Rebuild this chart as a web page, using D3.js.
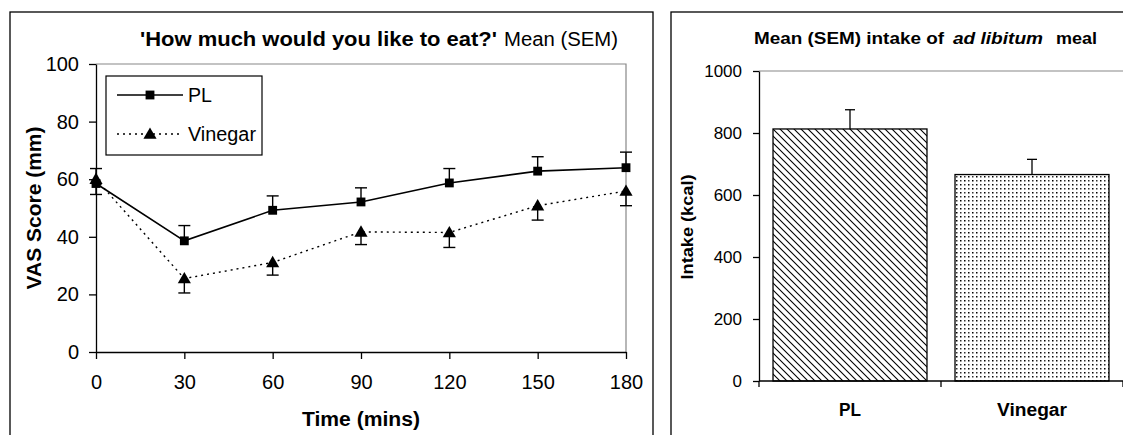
<!DOCTYPE html>
<html>
<head>
<meta charset="utf-8">
<script src="https://cdn.jsdelivr.net/npm/d3@7"></script>
<style>
  body { margin: 0; background: #fff; }
  svg { display: block; font-family: "Liberation Sans", Arial, sans-serif; }
  .axis path, .axis line { stroke: #000; stroke-width: 1.3; }
  .axis text { fill: #000; }
</style>
</head>
<body>
<svg id="chart" width="1123" height="435"></svg>
<script>
// ---------------- data ----------------
var times = [0, 30, 60, 90, 120, 150, 180];
var plMean = [58.5, 38.6, 49.2, 52.1, 58.7, 62.8, 64.0];
var plSem = [5.2, 5.3, 5.0, 4.9, 5.0, 5.0, 5.4];
var vinMean = [60.0, 25.5, 31.1, 41.7, 41.5, 50.8, 55.9];
var vinSem = [5.3, 5.0, 4.4, 4.4, 5.2, 5.0, 5.1];
var vasTicks = [0, 20, 40, 60, 80, 100];

var groups = ["PL", "Vinegar"];
var intakeMean = [813, 666];
var intakeSem = [62, 49];
var intakeTicks = [0, 200, 400, 600, 800, 1000];

var svg = d3.select('#chart');

// helper: text stretched to a given width
function label(x, y, str, size, len, opts) {
    opts = opts || {};
    var t = svg.append('text').attr('x', x).attr('y', y).attr('font-size', size)
        .attr('text-anchor', opts.anchor || 'start')
        .attr('textLength', len).attr('lengthAdjust', 'spacingAndGlyphs').text(str);
    if (opts.bold) t.attr('font-weight', 'bold');
    if (opts.italic) t.attr('font-style', 'italic');
    if (opts.transform) t.attr('transform', opts.transform);
    return t;
}

// panel frames
svg.append('rect').attr('x', 10).attr('y', 12).attr('width', 643).attr('height', 440)
    .attr('fill', 'none').attr('stroke', '#000').attr('stroke-width', 1.3);
svg.append('rect').attr('x', 671).attr('y', 12).attr('width', 470).attr('height', 440)
    .attr('fill', 'none').attr('stroke', '#000').attr('stroke-width', 1.3);

/////////////////////////////////////////////////////////////////////
//                        LEFT: VAS LINE CHART                     //
/////////////////////////////////////////////////////////////////////
var xScale = d3.scaleLinear().domain([0, 180]).range([96, 626]);
var yScale = d3.scaleLinear().domain([0, 100]).range([352, 64]);

// plot-area border (grey top & right)
svg.append('path')
    .attr('d', 'M' + xScale(0) + ',' + yScale(100) + 'H' + xScale(180) + 'V' + yScale(0))
    .attr('fill', 'none').attr('stroke', '#888').attr('stroke-width', 1.2);

var xAxis = d3.axisBottom(xScale).tickValues(times).tickSize(7).tickSizeOuter(0).tickPadding(16);
svg.append('g')
    .attr('class', 'x axis')
    .attr('transform', 'translate(0,' + yScale(0) + ')')
    .call(xAxis)
    .call(g => g.selectAll('.tick text').attr('font-size', 20));

var yAxis = d3.axisLeft(yScale).tickValues(vasTicks).tickSize(7).tickSizeOuter(0).tickPadding(10);
svg.append('g')
    .attr('class', 'y axis')
    .attr('transform', 'translate(' + xScale(0) + ',0)')
    .call(yAxis)
    .call(g => g.selectAll('.tick text').attr('font-size', 20));

// axis titles
label(361, 426, 'Time (mins)', 20, 118, { anchor: 'middle', bold: true });
label(0, 0, 'VAS Score (mm)', 20, 163,
    { anchor: 'middle', bold: true, transform: 'translate(41,208) rotate(-90)' });

// title
label(140, 46, "'How much would you like to eat?'", 20, 357, { bold: true });
label(504, 46, 'Mean (SEM)', 20, 114);

// error bars (PL up, vinegar down)
function errBars(means, sems, dir) {
    var g = svg.append('g').attr('stroke', '#000').attr('stroke-width', 1.4);
    times.forEach(function(t, i) {
        var x = xScale(t), y0 = yScale(means[i]), y1 = yScale(means[i] + dir * sems[i]);
        g.append('line').attr('x1', x).attr('x2', x).attr('y1', y0).attr('y2', y1);
        g.append('line').attr('x1', x - 6).attr('x2', x + 6).attr('y1', y1).attr('y2', y1);
    });
}
errBars(plMean, plSem, 1);
errBars(vinMean, vinSem, -1);

var line = d3.line().x((d, i) => xScale(times[i])).y(d => yScale(d));
svg.append('path').datum(vinMean).attr('d', line)
    .attr('fill', 'none').attr('stroke', '#000').attr('stroke-width', 1.4).attr('stroke-dasharray', '2,4');
svg.append('path').datum(plMean).attr('d', line)
    .attr('fill', 'none').attr('stroke', '#000').attr('stroke-width', 1.6);

var sq = d3.symbol().type(d3.symbolSquare).size(78);
var tri = d3.symbol().type(d3.symbolTriangle).size(75);
svg.selectAll('.plPt').data(plMean).enter().append('path').attr('class', 'plPt')
    .attr('d', sq).attr('transform', (d, i) => 'translate(' + xScale(times[i]) + ',' + yScale(d) + ')');
svg.selectAll('.vinPt').data(vinMean).enter().append('path').attr('class', 'vinPt')
    .attr('d', tri).attr('transform', (d, i) => 'translate(' + xScale(times[i]) + ',' + (yScale(d) + 1) + ')');

// legend
var leg = svg.append('g');
leg.append('rect').attr('x', 106).attr('y', 76).attr('width', 156).attr('height', 79)
    .attr('fill', '#fff').attr('stroke', '#000').attr('stroke-width', 1.2);
leg.append('line').attr('x1', 117).attr('x2', 183).attr('y1', 95).attr('y2', 95)
    .attr('stroke', '#000').attr('stroke-width', 1.6);
leg.append('path').attr('d', sq).attr('transform', 'translate(150,95)');
leg.append('line').attr('x1', 117).attr('x2', 183).attr('y1', 134).attr('y2', 134)
    .attr('stroke', '#000').attr('stroke-width', 1.4).attr('stroke-dasharray', '2,4');
leg.append('path').attr('d', tri).attr('transform', 'translate(150,135)');
label(188, 102, 'PL', 20, 24);
label(188, 141, 'Vinegar', 20, 68);

/////////////////////////////////////////////////////////////////////
//                        RIGHT: INTAKE BARS                       //
/////////////////////////////////////////////////////////////////////
var defs = svg.append('defs');
var hatch = defs.append('pattern').attr('id', 'hatch').attr('patternUnits', 'userSpaceOnUse')
    .attr('width', 7).attr('height', 7);
hatch.append('path').attr('d', 'M-1,-1L8,8M-8,-1L1,8M6,-1L15,8')
    .attr('stroke', '#000').attr('stroke-width', 1.1);
var dots = defs.append('pattern').attr('id', 'dots').attr('patternUnits', 'userSpaceOnUse')
    .attr('width', 8).attr('height', 8);
[[0, 0], [4, 4], [4, 0], [0, 4]].forEach(function(p, k) {
    dots.append('rect').attr('x', p[0]).attr('y', p[1])
        .attr('width', 1.5).attr('height', 1.5).attr('fill', k < 2 ? '#000' : '#333');
});

var bx = d3.scaleBand().domain(groups).range([759, 1123]).paddingInner(0.154).paddingOuter(0.077);
var by = d3.scaleLinear().domain([0, 1000]).range([381, 71]);

svg.append('line').attr('x1', 759).attr('x2', 1123).attr('y1', by(1000)).attr('y2', by(1000))
    .attr('stroke', '#888').attr('stroke-width', 1.2);

svg.selectAll('.bar').data(intakeMean).enter().append('rect').attr('class', 'bar')
    .attr('x', (d, i) => bx(groups[i])).attr('width', bx.bandwidth())
    .attr('y', d => by(d)).attr('height', d => by(0) - by(d))
    .attr('fill', (d, i) => i === 0 ? 'url(#hatch)' : 'url(#dots)')
    .attr('stroke', '#000').attr('stroke-width', 1.3);

var eg = svg.append('g').attr('stroke', '#000').attr('stroke-width', 1.3);
intakeMean.forEach(function(m, i) {
    var x = bx(groups[i]) + bx.bandwidth() / 2, y1 = by(m + intakeSem[i]);
    eg.append('line').attr('x1', x).attr('x2', x).attr('y1', by(m)).attr('y2', y1);
    eg.append('line').attr('x1', x - 5).attr('x2', x + 5).attr('y1', y1).attr('y2', y1);
});

var byAxis = d3.axisLeft(by).tickValues(intakeTicks).tickFormat(d3.format('d'))
    .tickSize(6).tickSizeOuter(0).tickPadding(11);
svg.append('g').attr('class', 'y axis').attr('transform', 'translate(759,0)').call(byAxis)
    .call(g => g.selectAll('.tick text').attr('font-size', 17));

// category axis: line with ticks at band boundaries
var bxAxis = svg.append('g').attr('class', 'x axis');
bxAxis.append('line').attr('x1', 759).attr('x2', 1123).attr('y1', by(0)).attr('y2', by(0))
    .attr('stroke', '#000').attr('stroke-width', 1.3);
[0, 1, 2].forEach(function(k) {
    var x = 759 + k * bx.step();
    bxAxis.append('line').attr('x1', x).attr('x2', x).attr('y1', by(0)).attr('y2', by(0) + 6)
        .attr('stroke', '#000').attr('stroke-width', 1.3);
});
var catLen = { "PL": 22, "Vinegar": 70 };
groups.forEach(function(g) {
    label(bx(g) + bx.bandwidth() / 2, 416, g, 18, catLen[g], { anchor: 'middle', bold: true });
});

label(0, 0, 'Intake (kcal)', 17, 105,
    { anchor: 'middle', bold: true, transform: 'translate(693,227) rotate(-90)' });

// title
label(754, 44, 'Mean (SEM) intake of', 16, 190, { bold: true });
label(953, 44, 'ad libitum', 16, 90, { bold: true, italic: true });
label(1056, 44, 'meal', 16, 41, { bold: true });
</script>
</body>
</html>
